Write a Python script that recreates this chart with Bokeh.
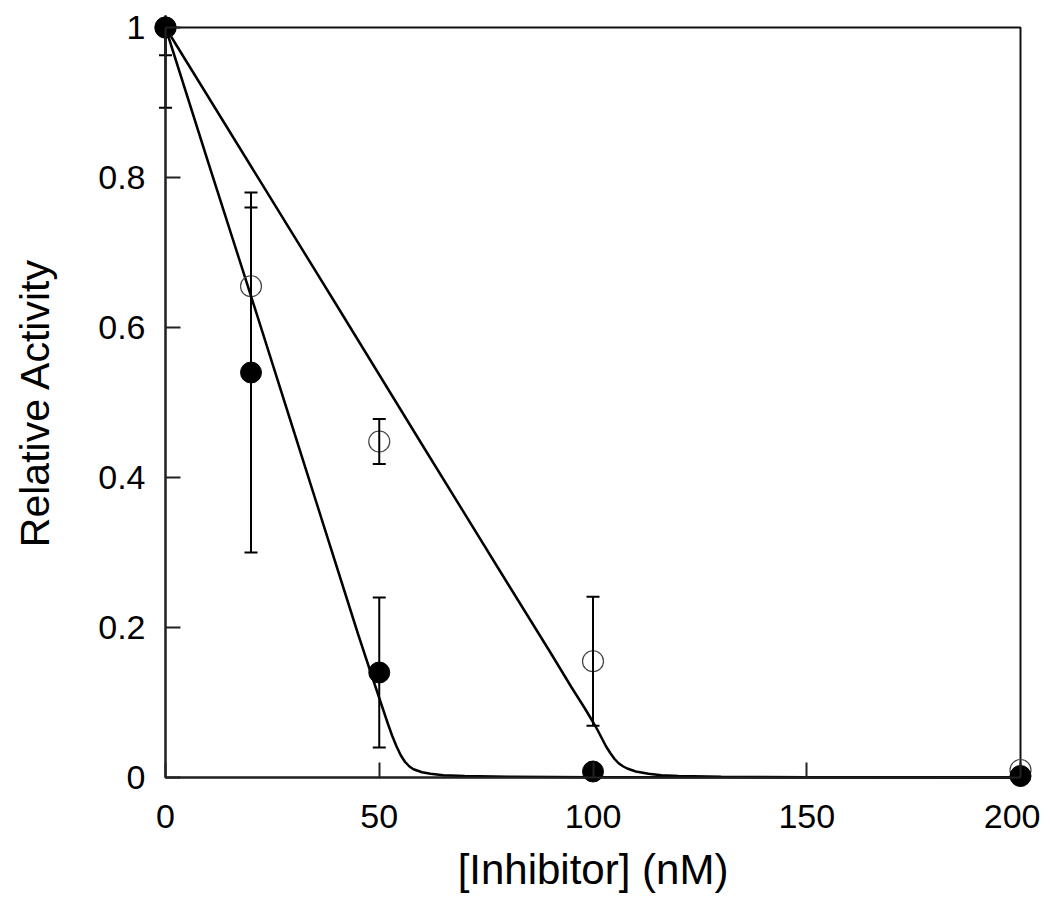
from bokeh.plotting import figure
from bokeh.models import (ColumnDataSource, Whisker, TeeHead, FixedTicker, CustomJSTickFormatter,
                          Range1d, BoxAnnotation, LinearAxis)
from bokeh.embed import file_html
from bokeh.resources import INLINE

# ---- data ----
conc = [0, 20, 50, 100, 200]
act_filled = [1.0, 0.54, 0.14, 0.008, 0.002]
err_filled = [0.037, 0.24, 0.10, 0.0, 0.0]
act_open = [1.0, 0.655, 0.448, 0.155, 0.01]
err_open = [0.107, 0.105, 0.03, 0.086, 0.0]

fit_x_filled = [0, 10, 20, 30, 40, 45, 48, 50, 52, 53, 54, 55, 56, 57, 58, 60, 62, 65, 70, 80, 100, 200]
fit_y_filled = [1.0, 0.82, 0.642, 0.462, 0.282, 0.192, 0.140, 0.106, 0.072, 0.056, 0.042, 0.030,
                0.021, 0.015, 0.011, 0.007, 0.005, 0.003, 0.002, 0.001, 0.0005, 0.0001]
fit_x_open = [0, 20, 40, 60, 80, 90, 95, 98, 100, 101, 102, 103, 104, 105, 106, 107, 108, 110,
              113, 116, 120, 130, 150, 200]
fit_y_open = [1.0, 0.815, 0.63, 0.444, 0.259, 0.167, 0.120, 0.093, 0.074, 0.064, 0.053, 0.042,
              0.033, 0.025, 0.019, 0.015, 0.012, 0.008, 0.005, 0.003, 0.002, 0.001, 0.0005, 0.0002]

x_ticks = [0, 50, 100, 150, 200]
y_ticks = [0, 0.2, 0.4, 0.6, 0.8, 1.0]
x_min, x_max = 0, 200
y_min, y_max = 0, 1.0

FONT = "Liberation Sans"

# data box of 855 x 750 px, with a 12 px margin inside the frame so markers on the edges are not cut
PAD_PX = 12
box_w, box_h = 855, 750
px = PAD_PX * (x_max - x_min) / box_w
py = PAD_PX * (y_max - y_min) / box_h

p = figure(frame_width=box_w + 2 * PAD_PX, frame_height=box_h + 2 * PAD_PX,
           output_backend="svg", toolbar_location=None,
           x_range=Range1d(x_min - px, x_max + px), y_range=Range1d(y_min - py, y_max + py),
           min_border_left=165 - PAD_PX, min_border_right=8, min_border_top=27 - PAD_PX,
           min_border_bottom=100)
p.xgrid.visible = False
p.ygrid.visible = False
p.outline_line_color = None
p.background_fill_color = "white"
p.border_fill_color = "white"

# frame box drawn on the data limits
p.add_layout(BoxAnnotation(left=x_min, right=x_max, bottom=y_min, top=y_max,
                           fill_alpha=0, line_color="#111111", line_alpha=1.0, line_width=2,
                           level="underlay"))

# label-carrying axes (at the frame edge): no line, no ticks
for ax in (p.xaxis[0], p.yaxis[0]):
    ax.axis_line_color = None
    ax.major_tick_line_color = None
    ax.minor_tick_line_color = None
    ax.major_tick_in = 0
    ax.major_tick_out = 0
    ax.major_label_text_font = FONT
    ax.major_label_text_font_size = "34px"
    ax.major_label_text_color = "black"
    ax.axis_label_text_font = FONT
    ax.axis_label_text_font_style = "normal"
    ax.axis_label_text_color = "black"

p.xaxis.ticker = FixedTicker(ticks=x_ticks)
p.yaxis.ticker = FixedTicker(ticks=y_ticks)
p.yaxis.formatter = CustomJSTickFormatter(code="return String(Math.round(tick*10)/10);")
p.xaxis.major_label_standoff = 15
p.yaxis.major_label_standoff = 8
p.xaxis.axis_label = "[Inhibitor] (nM)"
p.yaxis.axis_label = "Relative Activity"
p.xaxis.axis_label_text_font_size = "42px"
p.yaxis.axis_label_text_font_size = "41px"
p.xaxis.axis_label_standoff = 15
p.yaxis.axis_label_standoff = 37

# line-and-tick axes placed on the data limits (inward ticks, no labels)
def line_axis(ticks, loc, bounds):
    a = LinearAxis(ticker=FixedTicker(ticks=ticks),
                   formatter=CustomJSTickFormatter(code="return '';"),
                   fixed_location=loc, bounds=bounds)
    a.major_tick_in = 15
    a.major_tick_out = 0
    a.minor_tick_line_color = None
    a.major_tick_line_width = 2
    a.major_tick_line_color = "#222222"
    a.axis_line_width = 2
    a.axis_line_color = "#222222"
    a.major_label_standoff = 0
    a.major_label_text_font_size = "1px"
    return a

p.add_layout(line_axis(y_ticks, x_min, (y_min, y_max)), "left")
p.add_layout(line_axis(x_ticks, y_min, (x_min, x_max)), "below")

# error bars
def whisker_source(xs, ys, es):
    keep = [i for i in range(len(xs)) if es[i] > 0]
    return ColumnDataSource(dict(
        x=[xs[i] for i in keep],
        upper=[ys[i] + es[i] for i in keep],
        lower=[ys[i] - es[i] for i in keep]))

for src in (whisker_source(conc, act_open, err_open), whisker_source(conc, act_filled, err_filled)):
    w = Whisker(base="x", upper="upper", lower="lower", source=src, line_width=2, line_color="black",
                upper_head=TeeHead(size=13, line_width=2, line_color="black"),
                lower_head=TeeHead(size=13, line_width=2, line_color="black"),
                level="glyph")
    p.add_layout(w)

# fit curves
p.line(fit_x_filled, fit_y_filled, line_color="black", line_width=2.5)
p.line(fit_x_open, fit_y_open, line_color="black", line_width=2.5)

# markers
p.scatter(conc, act_open, size=21, fill_color=None, line_color="#444444", line_width=1.2)
p.scatter(conc, act_filled, size=21, fill_color="black", line_color="black")

open("out.html", "w").write(file_html(p, INLINE))
